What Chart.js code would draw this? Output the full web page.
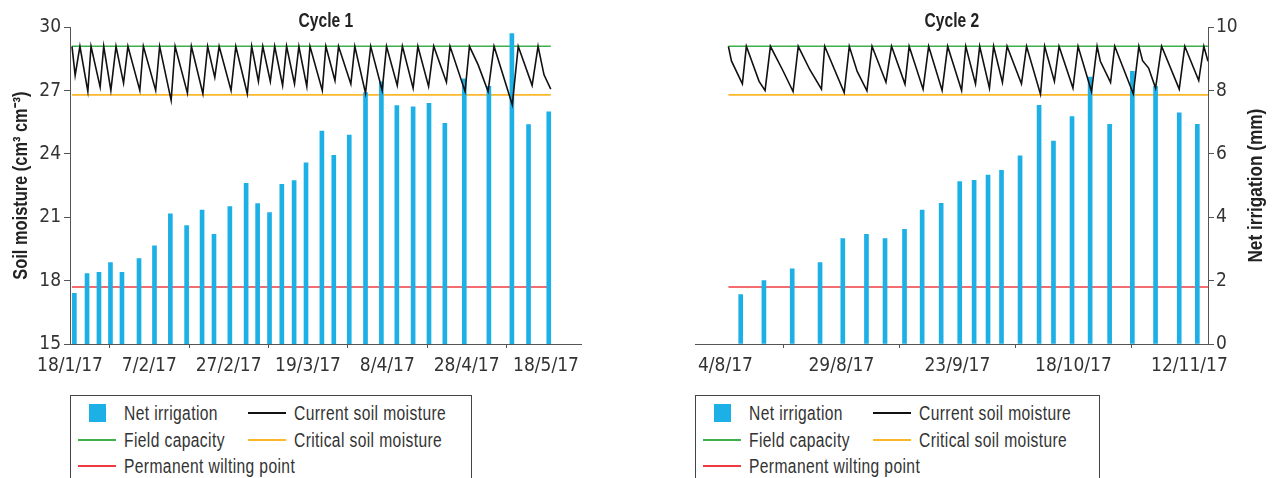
<!DOCTYPE html>
<html>
<head>
<meta charset="utf-8">
<script src="https://cdn.jsdelivr.net/npm/chart.js@4.4.1/dist/chart.umd.min.js"></script>
<style>
  html, body { margin: 0; padding: 0; background: #fff; }
  body { width: 1272px; height: 478px; overflow: hidden; position: relative; color: #333;
         font-family: "Liberation Sans", Arial, sans-serif; }
  canvas { position: absolute; top: 0; }
  #c1 { left: 0; }
  #c2 { left: 620px; }
  .legend { position: absolute; top: 395px; height: 110px; border: 1px solid #444; box-sizing: border-box; }
  #leg1 { left: 70px; width: 402px; }
  #leg2 { left: 695px; width: 405px; }
  .item { position: absolute; height: 24px; line-height: 24px; font-size: 20px; white-space: nowrap; }
  .item .mk { position: absolute; }
  .item .tx { position: absolute; top: 0; letter-spacing: 0.5px; transform: scaleX(0.78); transform-origin: 0 50%; }
</style>
</head>
<body>
<canvas id="c1" width="600" height="390"></canvas>
<canvas id="c2" width="652" height="390"></canvas>
<div class="legend" id="leg1"></div>
<div class="legend" id="leg2"></div>
<script>
// levels (cm3 cm-3), same for both cycles
const fieldCapacity = 29.1;
const criticalMoisture = 26.8;
const wiltingPoint = 17.7;

// Cycle 1, x = days since 18/1/17
const xTickDays1 = [0, 20, 40, 60, 80, 100, 120];
const xTickLabels1 = ['18/1/17', '7/2/17', '27/2/17', '19/3/17', '8/4/17', '28/4/17', '18/5/17'];
const irrigDays1 = [1.1, 4.3, 7.3, 10.2, 13.1, 17.4, 21.3, 25.3, 29.4, 33.3, 36.3, 40.3, 44.4, 47.3, 50.3, 53.4,
  56.5, 59.5, 63.5, 66.5, 70.4, 74.5, 78.5, 82.4, 86.5, 90.5, 94.5, 99.4, 105.6, 111.4, 115.6, 120.7];
const irrigMm1 = [1.60, 2.22, 2.26, 2.57, 2.26, 2.70, 3.10, 4.11, 3.74, 4.23, 3.46, 4.34, 5.07, 4.43, 4.15, 5.04,
  5.16, 5.72, 6.72, 5.96, 6.60, 7.94, 8.28, 7.53, 7.49, 7.60, 6.97, 8.37, 8.14, 9.80, 6.93, 7.33];
const soilDays1 = [0.5, 1.3, 2.5, 4.5, 5.3, 7.6, 8.5, 10.3, 11.6, 13.5, 14.6, 17.6, 18.5, 21.6, 22.6, 25.5, 26.5,
  29.6, 30.6, 33.5, 34.7, 36.5, 37.6, 40.6, 41.8, 44.7, 45.8, 47.5, 48.6, 50.5, 51.6, 53.6, 54.6, 56.6, 57.7,
  59.7, 60.5, 63.6, 64.5, 66.8, 67.7, 70.8, 71.8, 74.5, 75.8, 78.7, 79.8, 82.5, 83.8, 86.5, 87.7, 90.4, 91.7,
  94.9, 95.8, 99.6, 100.7, 102.9, 105.4, 106.9, 111.5, 113.0, 116.5, 118.0, 119.5, 121.2];
const soilVals1 = [29.1, 27.72, 29.1, 26.96, 29.1, 27.17, 29.1, 27.01, 29.1, 27.36, 29.1, 27.01, 29.1, 27.01, 29.1,
  26.54, 29.1, 26.88, 29.1, 26.85, 29.1, 27.63, 29.1, 27.01, 29.1, 26.85, 29.1, 27.44, 29.1, 27.44, 29.1, 27.25,
  29.1, 27.32, 29.1, 27.20, 29.1, 27.01, 29.1, 27.48, 29.1, 27.32, 29.1, 26.88, 29.1, 27.01, 29.1, 27.25, 29.1,
  27.12, 29.1, 27.20, 29.1, 27.40, 29.1, 26.96, 29.1, 28.22, 26.96, 29.1, 26.33, 29.1, 27.25, 29.1, 27.75, 27.07];

// Cycle 2, x = days since 4/8/17
const xTickDays2 = [0, 25, 50, 75, 100];
const xTickLabels2 = ['4/8/17', '29/8/17', '23/9/17', '18/10/17', '12/11/17'];
const irrigDays2 = [3.3, 8.3, 14.4, 20.4, 25.3, 30.4, 34.4, 38.6, 42.4, 46.5, 50.5, 53.6, 56.6, 59.5, 63.5, 67.6,
  70.7, 74.7, 78.6, 82.8, 87.7, 92.7, 97.8, 101.7];
const irrigMm2 = [1.56, 2.00, 2.37, 2.57, 3.33, 3.46, 3.33, 3.62, 4.23, 4.44, 5.13, 5.17, 5.33, 5.48, 5.94, 7.54,
  6.41, 7.18, 8.43, 6.94, 8.61, 8.14, 7.30, 6.94];
const soilDays2 = [0.65, 1.3, 3.66, 4.52, 7.26, 8.55, 9.7, 12.3, 14.58, 15.7, 18.2, 20.7, 21.4, 25.6, 26.7, 28.4,
  30.5, 31.6, 34.6, 35.8, 38.7, 39.6, 42.6, 43.8, 46.7, 47.9, 50.9, 51.8, 53.9, 54.8, 56.9, 57.8, 59.7, 60.7,
  63.8, 64.9, 67.9, 68.8, 70.9, 71.9, 74.9, 76.0, 78.9, 80.1, 80.8, 83.0, 83.9, 87.9, 89.1, 89.9, 91.2, 92.7,
  94.0, 97.8, 99.0, 102.0, 103.1, 104.0];
const soilVals2 = [29.1, 28.41, 27.32, 29.1, 27.44, 27.01, 29.1, 27.99, 26.96, 29.1, 27.99, 27.07, 29.1, 26.91,
  29.1, 27.91, 26.99, 29.1, 27.40, 29.1, 27.31, 29.1, 27.07, 29.1, 27.01, 29.1, 27.01, 29.1, 27.32, 29.1, 27.12,
  29.1, 27.39, 29.1, 27.32, 29.1, 26.83, 29.1, 27.44, 29.1, 27.12, 29.1, 26.96, 29.1, 28.39, 27.39, 29.1, 26.85,
  29.1, 28.42, 28.07, 27.12, 29.1, 27.07, 29.1, 27.48, 29.1, 28.39];

const AXIS = '#555';
const TEXT = '#333';
const COND = '"DejaVu Sans Condensed", "Liberation Sans", sans-serif';

// titles in a narrow bold face: liberation sans squeezed sideways
function narrowText(ctx, text, x, y, rot, squeeze, size) {
  ctx.save();
  ctx.translate(x, y);
  if (rot) ctx.rotate(rot);
  ctx.scale(squeeze, 1);
  ctx.font = 'bold ' + size + 'px "Liberation Sans", Arial, sans-serif';
  ctx.fillStyle = '#222';
  ctx.textAlign = 'center';
  ctx.textBaseline = 'alphabetic';
  ctx.fillText(text, 0, 0);
  ctx.restore();
}

const panelText = {
  id: 'panelText',
  afterDraw(chart, args, opts) {
    const ctx = chart.ctx;
    const a = chart.chartArea;
    const midY = (a.top + a.bottom) / 2;
    narrowText(ctx, opts.title, (a.left + a.right) / 2, 27, 0, 0.78, 20);
    if (opts.left) narrowText(ctx, opts.left.text, opts.left.x, midY, -Math.PI / 2, 0.82, 20);
    if (opts.right) narrowText(ctx, opts.right.text, opts.right.x, midY, -Math.PI / 2, 0.86, 20);
  }
};

// boxed two-column legend under each panel
const htmlLegend = {
  id: 'htmlLegend',
  afterUpdate(chart, args, opts) {
    const box = document.getElementById(opts.containerID);
    box.innerHTML = '';
    const items = chart.options.plugins.legend.labels.generateLabels(chart)
      .sort((a, b) => a.datasetIndex - b.datasetIndex);
    items.forEach((item, i) => {
      const col = i % 2, row = Math.floor(i / 2);
      const el = document.createElement('div');
      el.className = 'item';
      el.style.left = (col ? 176 : 6) + 'px';
      el.style.top = (5 + row * 26.5) + 'px';
      const mk = document.createElement('span');
      mk.className = 'mk';
      if (chart.data.datasets[item.datasetIndex].type === 'bar') {
        mk.style.cssText = 'left:12px;top:3px;width:17px;height:18px;background:' + item.fillStyle;
      } else {
        mk.style.cssText = 'left:1px;width:38px;top:11px;height:2px;background:' + item.strokeStyle;
      }
      const tx = document.createElement('span');
      tx.className = 'tx';
      tx.style.left = '47px';
      tx.textContent = item.text;
      el.appendChild(mk);
      el.appendChild(tx);
      box.appendChild(el);
    });
  }
};

function buildDatasets(iDays, iMm, sDays, sVals) {
  const x0 = sDays[0], x1 = sDays[sDays.length - 1];
  const level = v => [{x: x0, y: v}, {x: x1, y: v}];
  return [
    { type: 'bar', label: 'Net irrigation', yAxisID: 'y1', order: 1,
      data: iDays.map((d, i) => ({x: d, y: iMm[i]})),
      backgroundColor: '#1cb0e6', borderWidth: 0, barThickness: 4 },
    { type: 'line', label: 'Current soil moisture', yAxisID: 'y', order: 0,
      data: sDays.map((d, i) => ({x: d, y: sVals[i]})),
      borderColor: '#111', borderWidth: 1.6, pointRadius: 0, tension: 0, fill: false },
    { type: 'line', label: 'Field capacity', yAxisID: 'y', order: 2, data: level(fieldCapacity),
      borderColor: '#3cb04a', borderWidth: 1.6, pointRadius: 0, fill: false },
    { type: 'line', label: 'Critical soil moisture', yAxisID: 'y', order: 2, data: level(criticalMoisture),
      borderColor: '#fbb72c', borderWidth: 1.6, pointRadius: 0, fill: false },
    { type: 'line', label: 'Permanent wilting point', yAxisID: 'y', order: 2, data: level(wiltingPoint),
      borderColor: '#ee3b40', borderWidth: 1.6, pointRadius: 0, fill: false }
  ];
}

function xScale(min, max, tickDays, tickLabels) {
  return {
    type: 'linear', position: 'bottom', min: min, max: max, offset: false,
    afterBuildTicks: s => { s.ticks = tickDays.map(v => ({value: v})); },
    afterFit: s => { s.height = 46; },
    ticks: {
      autoSkip: false, maxRotation: 0, padding: 7, color: TEXT,
      font: {family: COND, size: 19},
      callback: v => { const k = tickDays.indexOf(v); return k < 0 ? '' : tickLabels[k]; }
    },
    grid: {drawOnChartArea: false, tickLength: 4, color: AXIS},
    border: {color: AXIS, width: 1}
  };
}

function panel(id, sets, scales, padding, textOpts, legendId) {
  return new Chart(document.getElementById(id), {
    type: 'line',
    data: {datasets: sets},
    options: {
      responsive: false,
      animation: false,
      devicePixelRatio: 1,
      layout: {padding: padding},
      scales: scales,
      plugins: {
        legend: {display: false},
        tooltip: {enabled: false},
        htmlLegend: {containerID: legendId},
        panelText: textOpts
      }
    },
    plugins: [htmlLegend, panelText]
  });
}

panel('c1', buildDatasets(irrigDays1, irrigMm1, soilDays1, soilVals1), {
  x: xScale(0, 129, xTickDays1, xTickLabels1),
  y: {
    position: 'left', min: 15, max: 30,
    afterFit: s => { s.width = 70; },
    ticks: {stepSize: 3, padding: 3, color: TEXT, font: {family: COND, size: 19}},
    grid: {drawOnChartArea: false, tickLength: 6, color: AXIS},
    border: {color: AXIS, width: 1}
  },
  y1: {display: false, position: 'right', min: 0, max: 10}
}, {left: 0, right: 18.3, top: 27.3, bottom: 0},
  {title: 'Cycle 1', left: {text: 'Soil moisture (cm³ cm⁻³)', x: 27}}, 'leg1');

panel('c2', buildDatasets(irrigDays2, irrigMm2, soilDays2, soilVals2), {
  x: xScale(-6.4, 104, xTickDays2, xTickLabels2),
  y: {display: false, position: 'left', min: 15, max: 30},
  y1: {
    position: 'right', min: 0, max: 10,
    afterFit: s => { s.width = 64; },
    ticks: {stepSize: 2, padding: 2, color: TEXT, font: {family: COND, size: 19}},
    grid: {drawOnChartArea: false, tickLength: 6, color: AXIS},
    border: {color: AXIS, width: 1}
  }
}, {left: 75.7, right: 0, top: 27.3, bottom: 0},
  {title: 'Cycle 2', right: {text: 'Net irrigation (mm)', x: 641.5}}, 'leg2');
</script>
</body>
</html>
